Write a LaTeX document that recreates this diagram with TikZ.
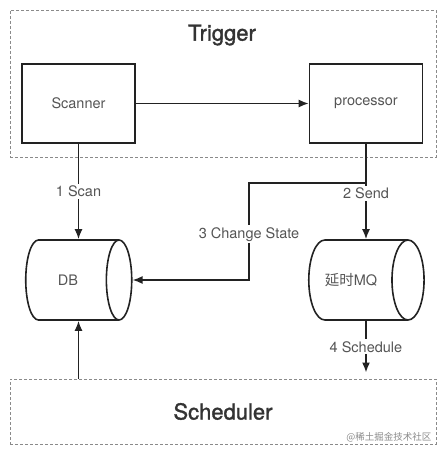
\documentclass[tikz,border=0pt]{standalone}
\usepackage{fontspec}
\setmainfont{TeX Gyre Heros}
\newfontfamily\cjk{Noto Sans CJK SC}
\newfontfamily\headfont[FakeBold=1.4]{TeX Gyre Heros}
\usetikzlibrary{arrows.meta,shapes.geometric}
\definecolor{linecol}{HTML}{222222}
\definecolor{textcol}{HTML}{555555}
\definecolor{dashcol}{HTML}{8A8A8A}
\tikzset{
  box/.style={draw=linecol, line width=1.6pt, minimum width=113pt, minimum height=79pt, inner sep=0pt, text=textcol, font=\fontsize{14.5}{17}\selectfont},
  store/.style={draw=linecol, line width=1.6pt, cylinder, aspect=2.4, minimum width=80pt, minimum height=106pt, inner sep=0pt, text=textcol, font=\fontsize{14.5}{17}\selectfont},
  group/.style={draw=dashcol, line width=1pt, dash pattern=on 3pt off 2pt, inner sep=0pt},
  title/.style={text=black!80, font=\headfont\fontsize{22}{26}\selectfont},
  flow/.style={draw=linecol, line width=1.6pt, -{Latex[length=10pt,width=8pt]}},
  lbl/.style={fill=white, text=textcol, inner sep=2pt, font=\fontsize{14.5}{17}\selectfont}
}
\begin{document}
\begin{tikzpicture}[x=1pt, y=-1pt]
\useasboundingbox (0,0) rectangle (446,455);
\node[group, minimum width=426pt, minimum height=147pt] (trigger) at (223,83.5) {};
\node[title] (triggerTitle) at (222,35) {Trigger};
\node[group, title, minimum width=426pt, minimum height=65pt] (scheduler) at (223,411.5) {Scheduler};
\node[box] (scanner) at (78.5,103.5) {Scanner};
\node[box] (processor) at (366,103.5) {processor};
\node[store] (db) at (72,280) {DB\kern8pt};
\node[store] (mq) at (358,280) {{\cjk 延时}MQ\kern14pt};
\coordinate (branch) at (366,183);
\coordinate (turn) at (249,183);
\draw[flow] (scanner) -- (processor);
\draw[flow] (scanner.south) -- node[lbl] (scanLbl) {1 Scan} (scanner.south |- db.north);
\draw[flow] (processor.south) -- node[lbl, pos=0.52] (sendLbl) {2 Send} (processor.south |- mq.north);
\draw[flow] (branch) -- (turn) -- node[lbl, pos=0.53] (changeLbl) {3 Change State} (turn |- db.east) -- (db.east);
\draw[flow, shorten >=6pt] (processor.south |- mq.south) -- node[lbl, pos=0.45] (schedLbl) {4 Schedule} (processor.south |- scheduler.north);
\draw[flow] (scanner.south |- scheduler.north) -- (scanner.south |- db.south);
\node[text=dashcol, anchor=east, font=\cjk\fontsize{9.5}{11}\selectfont] (mark) at (435,437) {@稀土掘金技术社区};
\end{tikzpicture}
\end{document}
